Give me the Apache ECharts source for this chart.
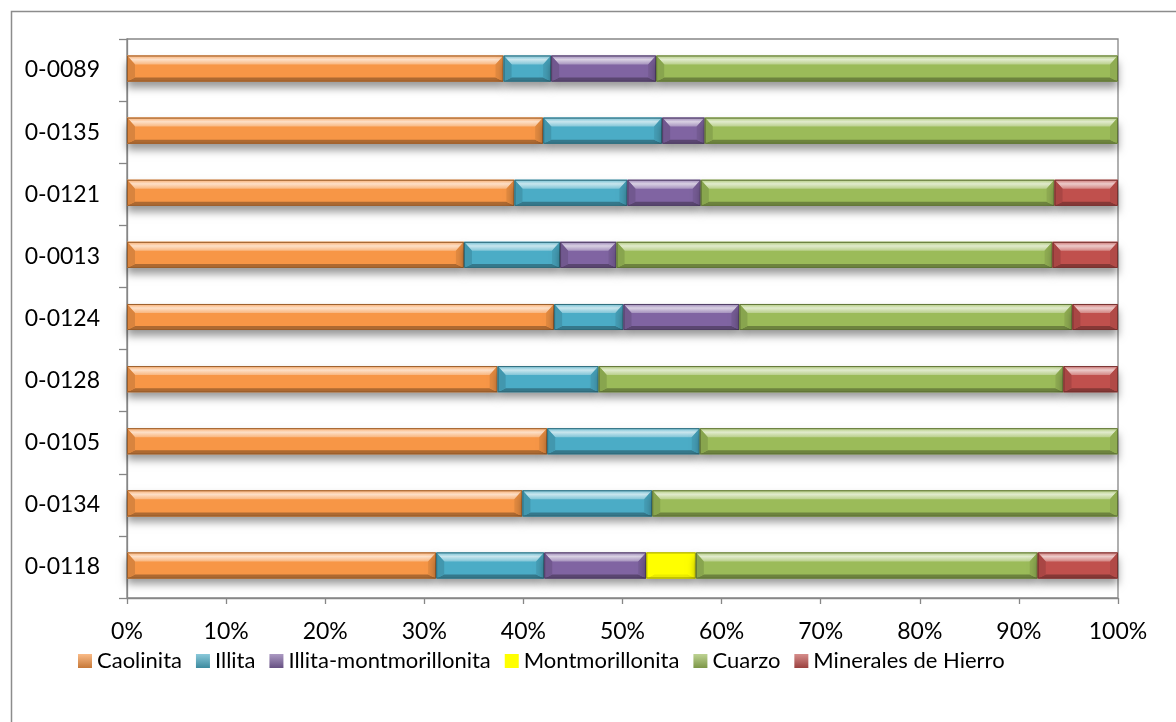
<!DOCTYPE html>
<html>
<head>
<meta charset="utf-8">
<script src="https://cdn.jsdelivr.net/npm/echarts@6/dist/echarts.min.js"></script>
<style>
  html, body { margin: 0; padding: 0; background: #fff; }
  #chart { width: 1176px; height: 722px; }
</style>
</head>
<body>
<div id="chart"></div>
<script>
// Mineral composition per sample (percent), samples listed top to bottom
const samples = ['0-0089', '0-0135', '0-0121', '0-0013', '0-0124', '0-0128', '0-0105', '0-0134', '0-0118'];
const caolinita = [38.0, 42.0, 39.1, 34.0, 43.1, 37.4, 42.4, 39.9, 31.2];
const illita = [4.8, 12.0, 11.4, 9.7, 7.0, 10.2, 15.4, 13.1, 10.9];
const illitaMontmorillonita = [10.6, 4.3, 7.4, 5.7, 11.7, 0, 0, 0, 10.3];
const montmorillonita = [0, 0, 0, 0, 0, 0, 0, 0, 5.0];
const cuarzo = [46.6, 41.7, 35.7, 44.0, 33.6, 46.9, 42.2, 47.0, 34.5];
const mineralesHierro = [0, 0, 6.4, 6.6, 4.6, 5.5, 0, 0, 8.1];
const xTicks = [0, 10, 20, 30, 40, 50, 60, 70, 80, 90, 100];

const seriesDefs = [
  { name: 'Caolinita', values: caolinita, color: '#F79646' },
  { name: 'Illita', values: illita, color: '#4BACC6' },
  { name: 'Illita-montmorillonita', values: illitaMontmorillonita, color: '#8064A2' },
  { name: 'Montmorillonita', values: montmorillonita, color: '#FFFF00', flat: true },
  { name: 'Cuarzo', values: cuarzo, color: '#9BBB59' },
  { name: 'Minerales de Hierro', values: mineralesHierro, color: '#C0504D' }
];

function hexToRgb(h) {
  const n = parseInt(h.slice(1), 16);
  return [(n >> 16) & 255, (n >> 8) & 255, n & 255];
}
function mix(hex, target, t) {
  const a = hexToRgb(hex), b = target === 'white' ? [255, 255, 255] : [0, 0, 0];
  const c = a.map((v, i) => Math.round(v + (b[i] - v) * t));
  return 'rgb(' + c.join(',') + ')';
}

// running totals so each segment starts where the previous mineral ended
const totals = samples.map(() => 0);
const stackedData = seriesDefs.map(def => def.values.map((v, i) => {
  const start = totals[i];
  totals[i] += v;
  return [i, start, totals[i]];
}));

function makeRenderer(def) {
  const base = def.color;
  const topFill = def.flat ? base : new echarts.graphic.LinearGradient(0, 0, 0, 1, [
    { offset: 0, color: mix(base, 'white', 0.2) },
    { offset: 0.45, color: mix(base, 'white', 0.7) },
    { offset: 1, color: mix(base, 'white', 0.3) }
  ]);
  const bottomFill = def.flat ? mix(base, 'black', 0.08) : mix(base, 'black', 0.3);
  const leftFill = def.flat ? base : mix(base, 'black', 0.12);
  const rightFill = def.flat ? base : mix(base, 'black', 0.08);
  const outline = mix(base, 'black', 0.38);
  return function (params, api) {
    const cat = api.value(0), s = api.value(1), e = api.value(2);
    if (e - s <= 0) return null;
    const p0 = api.coord([s, cat]);
    const p1 = api.coord([e, cat]);
    const band = api.size([0, 1])[1];
    const h = band * 0.42;
    const x0 = p0[0], x1 = p1[0];
    const yc = p0[1] - 1.5;
    const y0 = yc - h / 2, y1 = yc + h / 2;
    const bs = Math.min(8, (x1 - x0) / 2), bt = 9, bb = 4;
    return {
      type: 'group',
      children: [
        { type: 'rect', shape: { x: x0, y: y0, width: x1 - x0, height: h },
          style: { fill: base, shadowBlur: 8, shadowOffsetY: 6, shadowColor: 'rgba(0,0,0,0.4)' } },
        { type: 'polygon', shape: { points: [[x0, y0], [x1, y0], [x1 - bs, y0 + bt], [x0 + bs, y0 + bt]] },
          style: { fill: topFill } },
        { type: 'polygon', shape: { points: [[x0, y1], [x1, y1], [x1 - bs, y1 - bb], [x0 + bs, y1 - bb]] },
          style: { fill: bottomFill } },
        { type: 'polygon', shape: { points: [[x0, y0], [x0 + bs, y0 + bt], [x0 + bs, y1 - bb], [x0, y1]] },
          style: { fill: leftFill } },
        { type: 'polygon', shape: { points: [[x1, y0], [x1 - bs, y0 + bt], [x1 - bs, y1 - bb], [x1, y1]] },
          style: { fill: rightFill } },
        { type: 'rect', shape: { x: x0 + 0.5, y: y0 + 0.5, width: x1 - x0 - 1, height: h - 1 },
          style: { fill: 'none', stroke: outline, lineWidth: 1 } }
      ]
    };
  };
}

const FONT = 'Lato, "Open Sans", sans-serif';
const AXIS_GRAY = '#868686';

const chart = echarts.init(document.getElementById('chart'), null, { renderer: 'canvas' });
chart.setOption({
  animation: false,
  backgroundColor: '#fff',
  textStyle: { fontFamily: FONT, color: '#000' },
  graphic: [
    { type: 'rect', left: 9, top: 9, shape: { x: 0, y: 0, width: 1400, height: 900 },
      style: { fill: 'none', stroke: '#8c8c8c', lineWidth: 1.5 }, z: -10 }
  ],
  grid: {
    left: 127, right: 58, top: 39, bottom: 124,
    show: true, borderColor: AXIS_GRAY, borderWidth: 1.3, backgroundColor: 'transparent'
  },
  legend: {
    left: 78, top: 650, padding: 0,
    itemWidth: 14, itemHeight: 14, itemGap: 14,
    icon: 'rect',
    textStyle: { fontFamily: FONT, fontSize: 22, color: '#000' },
    data: seriesDefs.map(d => d.name)
  },
  xAxis: {
    type: 'value', min: xTicks[0], max: xTicks[xTicks.length - 1], interval: xTicks[1] - xTicks[0],
    axisLine: { show: true, lineStyle: { color: AXIS_GRAY, width: 1.3 } },
    axisTick: { show: true, length: 6, lineStyle: { color: AXIS_GRAY, width: 1.3 } },
    splitLine: { show: false },
    axisLabel: { formatter: '{value}%', fontSize: 23, color: '#000', margin: 22, fontFamily: FONT }
  },
  yAxis: {
    type: 'category', inverse: true, data: samples,
    axisLine: { show: true, lineStyle: { color: AXIS_GRAY, width: 1.3 } },
    axisTick: { show: true, length: 8, lineStyle: { color: AXIS_GRAY, width: 1.3 } },
    axisLabel: { fontSize: 23, color: '#000', margin: 27, fontFamily: FONT }
  },
  series: seriesDefs.map((def, k) => ({
    name: def.name,
    type: 'custom',
    renderItem: makeRenderer(def),
    itemStyle: {
      color: def.flat ? def.color : new echarts.graphic.LinearGradient(0, 0, 0, 1, [
        { offset: 0, color: mix(def.color, 'white', 0.35) },
        { offset: 1, color: mix(def.color, 'black', 0.2) }
      ])
    },
    encode: { x: [1, 2], y: 0 },
    data: stackedData[k]
  }))
});
</script>
</body>
</html>
